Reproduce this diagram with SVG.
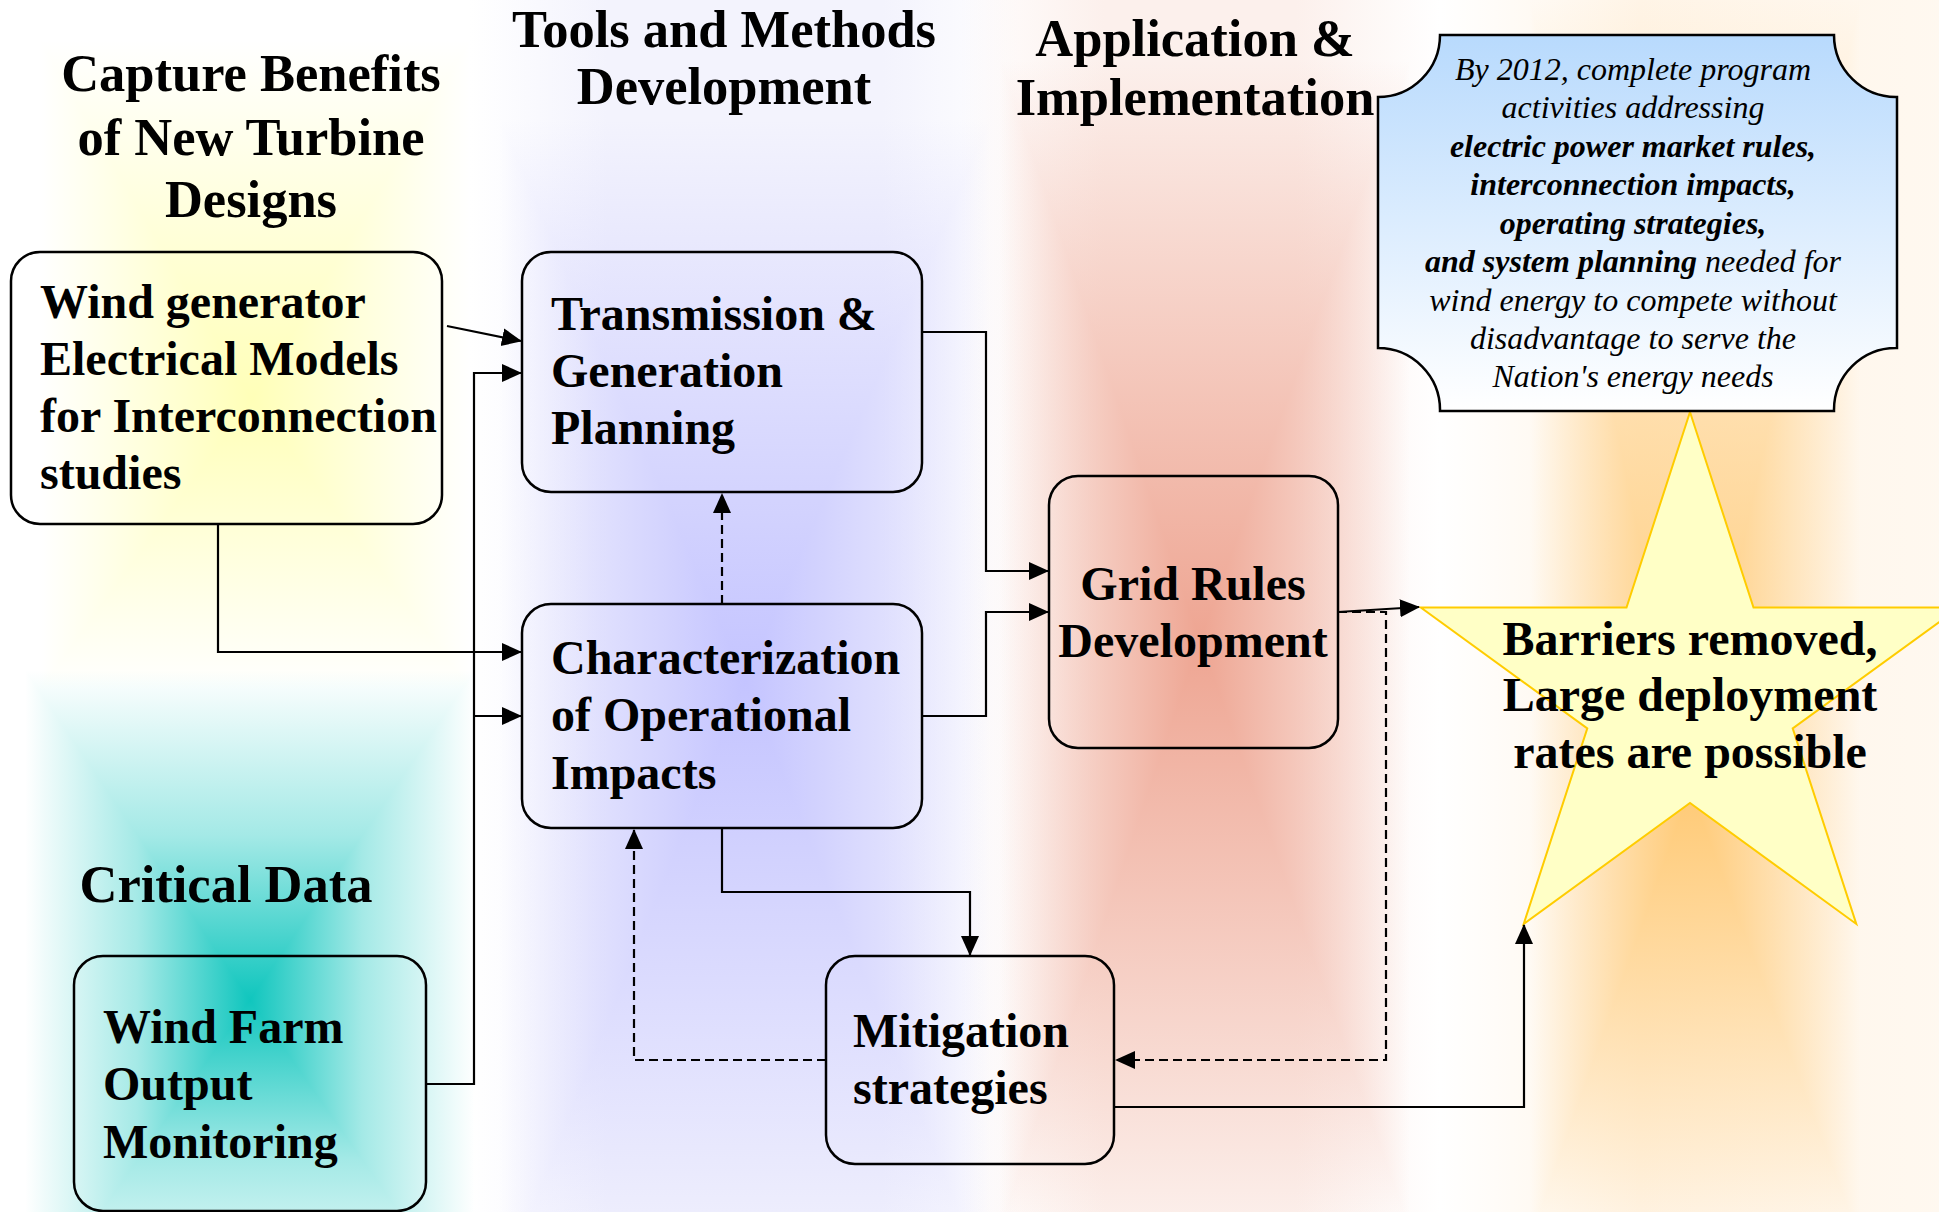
<svg xmlns="http://www.w3.org/2000/svg" width="1939" height="1212" viewBox="0 0 1939 1212">
<style>
.g{shape-rendering:crispEdges}
.box{fill:none;stroke:#000;stroke-width:2.5}
.c{fill:none;stroke:#000;stroke-width:2.2}
.d{stroke-dasharray:9 5}
.t{font-family:"Liberation Serif","Times New Roman",serif;font-weight:bold;font-size:48px;fill:#000}
.h{font-size:52.5px;text-anchor:middle}
.m{text-anchor:middle}
.i{font-family:"Liberation Serif","Times New Roman",serif;font-style:italic;font-size:32px;text-anchor:middle;fill:#000}
.b{font-weight:bold}
</style>
<defs>
<marker id="ah" markerUnits="userSpaceOnUse" markerWidth="20" markerHeight="20" viewBox="0 0 20 20" refX="19" refY="10" orient="auto">
<path d="M0,1 L20,10 L0,19 Z" fill="#000"/>
</marker>
<linearGradient id="callG" x1="0" y1="0" x2="0" y2="1">
<stop offset="0" stop-color="#b8dafd"/>
<stop offset="1" stop-color="#ffffff"/>
</linearGradient>
<linearGradient id="baseL" x1="0" y1="0" x2="1" y2="0">
<stop offset="0" stop-color="#f3f3fd" stop-opacity="0"/>
<stop offset="0.25" stop-color="#f3f3fd" stop-opacity="1"/>
<stop offset="0.75" stop-color="#f3f3fd" stop-opacity="1"/>
<stop offset="1" stop-color="#f3f3fd" stop-opacity="0"/>
</linearGradient>
<linearGradient id="baseS" x1="0" y1="0" x2="1" y2="0">
<stop offset="0" stop-color="#fcf0ec" stop-opacity="0"/>
<stop offset="0.3" stop-color="#fcf0ec" stop-opacity="1"/>
<stop offset="0.7" stop-color="#fcf0ec" stop-opacity="1"/>
<stop offset="1" stop-color="#fcf0ec" stop-opacity="0"/>
</linearGradient>
<linearGradient id="baseO" x1="0" y1="0" x2="1" y2="0">
<stop offset="0" stop-color="#fff4e6" stop-opacity="0"/>
<stop offset="0.4" stop-color="#fff4e6" stop-opacity="1"/>
<stop offset="1" stop-color="#fff4e6" stop-opacity="0.6"/>
</linearGradient>
<!-- yellow -->
<linearGradient id="y0"><stop offset="0" stop-color="#ffffb8" stop-opacity="0"/><stop offset="1" stop-color="#ffffb8" stop-opacity="1"/></linearGradient>
<linearGradient id="yT" href="#y0" gradientUnits="userSpaceOnUse" x1="252" y1="40" x2="252" y2="400"/>
<linearGradient id="yB" href="#y0" gradientUnits="userSpaceOnUse" x1="252" y1="690" x2="252" y2="400"/>
<linearGradient id="yL" href="#y0" gradientUnits="userSpaceOnUse" x1="40" y1="400" x2="252" y2="400"/>
<linearGradient id="yR" href="#y0" gradientUnits="userSpaceOnUse" x1="470" y1="400" x2="252" y2="400"/>
<!-- lavender -->
<linearGradient id="l0"><stop offset="0" stop-color="#c4c4ff" stop-opacity="0"/><stop offset="1" stop-color="#c4c4ff" stop-opacity="1"/></linearGradient>
<linearGradient id="lT" href="#l0" gradientUnits="userSpaceOnUse" x1="745" y1="120" x2="745" y2="680"/>
<linearGradient id="lB" href="#l0" gradientUnits="userSpaceOnUse" x1="745" y1="1290" x2="745" y2="680"/>
<linearGradient id="lL" href="#l0" gradientUnits="userSpaceOnUse" x1="500" y1="680" x2="745" y2="680"/>
<linearGradient id="lR" href="#l0" gradientUnits="userSpaceOnUse" x1="990" y1="680" x2="745" y2="680"/>
<!-- salmon -->
<linearGradient id="s0"><stop offset="0" stop-color="#eea592" stop-opacity="0"/><stop offset="1" stop-color="#eea592" stop-opacity="1"/></linearGradient>
<linearGradient id="sT" href="#s0" gradientUnits="userSpaceOnUse" x1="1200" y1="60" x2="1200" y2="640"/>
<linearGradient id="sB" href="#s0" gradientUnits="userSpaceOnUse" x1="1200" y1="1230" x2="1200" y2="640"/>
<linearGradient id="sL" href="#s0" gradientUnits="userSpaceOnUse" x1="1000" y1="640" x2="1200" y2="640"/>
<linearGradient id="sR" href="#s0" gradientUnits="userSpaceOnUse" x1="1410" y1="640" x2="1200" y2="640"/>
<!-- orange -->
<linearGradient id="o0"><stop offset="0" stop-color="#ffca76" stop-opacity="0"/><stop offset="1" stop-color="#ffca76" stop-opacity="1"/></linearGradient>
<linearGradient id="oT" href="#o0" gradientUnits="userSpaceOnUse" x1="1690" y1="0" x2="1690" y2="790"/>
<linearGradient id="oB" href="#o0" gradientUnits="userSpaceOnUse" x1="1690" y1="1240" x2="1690" y2="790"/>
<linearGradient id="oL" href="#o0" gradientUnits="userSpaceOnUse" x1="1530" y1="790" x2="1690" y2="790"/>
<linearGradient id="oR" href="#o0" gradientUnits="userSpaceOnUse" x1="1860" y1="790" x2="1690" y2="790"/>
<!-- teal -->
<linearGradient id="c0"><stop offset="0" stop-color="#10c6be" stop-opacity="0"/><stop offset="0.5" stop-color="#10c6be" stop-opacity="0.38"/><stop offset="1" stop-color="#10c6be" stop-opacity="1"/></linearGradient>
<linearGradient id="cT" href="#c0" gradientUnits="userSpaceOnUse" x1="250" y1="670" x2="250" y2="1000"/>
<linearGradient id="cB" href="#c0" gradientUnits="userSpaceOnUse" x1="250" y1="1320" x2="250" y2="1000"/>
<linearGradient id="cL" href="#c0" gradientUnits="userSpaceOnUse" x1="25" y1="1000" x2="250" y2="1000"/>
<linearGradient id="cR" href="#c0" gradientUnits="userSpaceOnUse" x1="475" y1="1000" x2="250" y2="1000"/>
</defs>

<rect x="0" y="0" width="1939" height="1212" fill="#ffffff"/>

<g id="background">
<rect x="470" y="0" width="550" height="1212" fill="url(#baseL)"/>
<rect x="960" y="0" width="480" height="1212" fill="url(#baseS)"/>
<rect x="1440" y="0" width="499" height="1212" fill="url(#baseO)"/>
<g class="g">
<polygon points="40,40 470,40 252,400" fill="url(#yT)"/>
<polygon points="40,690 470,690 252,400" fill="url(#yB)"/>
<polygon points="40,40 40,690 252,400" fill="url(#yL)"/>
<polygon points="470,40 470,690 252,400" fill="url(#yR)"/>

<polygon points="500,120 990,120 745,680" fill="url(#lT)"/>
<polygon points="500,1290 990,1290 745,680" fill="url(#lB)"/>
<polygon points="500,120 500,1290 745,680" fill="url(#lL)"/>
<polygon points="990,120 990,1290 745,680" fill="url(#lR)"/>

<polygon points="1000,60 1410,60 1200,640" fill="url(#sT)"/>
<polygon points="1000,1230 1410,1230 1200,640" fill="url(#sB)"/>
<polygon points="1000,60 1000,1230 1200,640" fill="url(#sL)"/>
<polygon points="1410,60 1410,1230 1200,640" fill="url(#sR)"/>

<polygon points="1530,0 1860,0 1690,790" fill="url(#oT)"/>
<polygon points="1530,1240 1860,1240 1690,790" fill="url(#oB)"/>
<polygon points="1530,0 1530,1240 1690,790" fill="url(#oL)"/>
<polygon points="1860,0 1860,1240 1690,790" fill="url(#oR)"/>

<polygon points="25,670 475,670 250,1000" fill="url(#cT)"/>
<polygon points="25,1320 475,1320 250,1000" fill="url(#cB)"/>
<polygon points="25,670 25,1320 250,1000" fill="url(#cL)"/>
<polygon points="475,670 475,1320 250,1000" fill="url(#cR)"/>
</g>
</g>

<g id="titles">
<text class="t h" x="251" y="91">Capture Benefits</text>
<text class="t h" x="251" y="155">of New Turbine</text>
<text class="t h" x="251" y="217">Designs</text>
<text class="t h" x="724" y="47">Tools and Methods</text>
<text class="t h" x="724" y="104">Development</text>
<text class="t h" x="1195" y="56">Application &amp;</text>
<text class="t h" x="1195" y="115">Implementation</text>
<text class="t h" x="226" y="902">Critical Data</text>
</g>

<g id="star-goal">
<polygon points="1690,412 1753.5,607.6 1959.2,607.6 1792.7,728.4 1856.3,924 1690,803 1523.7,924 1587.3,728.4 1420.8,607.6 1626.5,607.6" fill="#ffffc6" stroke="#ffcc00" stroke-width="2"/>
<text class="t m" x="1690" y="655">Barriers removed,</text>
<text class="t m" x="1690" y="711">Large deployment</text>
<text class="t m" x="1690" y="768">rates are possible</text>
</g>

<g id="callout-goal">
<path d="M1440,35 H1834 A62,62 0 0 0 1897,97 V348 A62,62 0 0 0 1834,411 H1440 A62,62 0 0 0 1378,348 V97 A62,62 0 0 0 1440,35 Z" fill="url(#callG)" stroke="#000" stroke-width="2.5"/>
<text class="i" x="1633" y="80">By 2012, complete program</text>
<text class="i" x="1633" y="118">activities addressing</text>
<text class="i b" x="1633" y="157">electric power market rules,</text>
<text class="i b" x="1633" y="195">interconnection impacts,</text>
<text class="i b" x="1633" y="234">operating strategies,</text>
<text class="i" x="1633" y="272"><tspan font-weight="bold">and system planning</tspan> needed for</text>
<text class="i" x="1633" y="311">wind energy to compete without</text>
<text class="i" x="1633" y="349">disadvantage to serve the</text>
<text class="i" x="1633" y="387">Nation's energy needs</text>
</g>

<g id="node-wind-generator">
<rect class="box" x="11" y="252" width="431" height="272" rx="29"/>
<text class="t" x="40" y="318">Wind generator</text>
<text class="t" x="40" y="375">Electrical Models</text>
<text class="t" x="40" y="432">for Interconnection</text>
<text class="t" x="40" y="489">studies</text>
</g>

<g id="node-transmission">
<rect class="box" x="522" y="252" width="400" height="240" rx="29"/>
<text class="t" x="551" y="330">Transmission &amp;</text>
<text class="t" x="551" y="387">Generation</text>
<text class="t" x="551" y="444">Planning</text>
</g>

<g id="node-characterization">
<rect class="box" x="522" y="604" width="400" height="224" rx="29"/>
<text class="t" x="551" y="674">Characterization</text>
<text class="t" x="551" y="731">of Operational</text>
<text class="t" x="551" y="789">Impacts</text>
</g>

<g id="node-wind-farm">
<rect class="box" x="74" y="956" width="352" height="255" rx="29"/>
<text class="t" x="103" y="1043">Wind Farm</text>
<text class="t" x="103" y="1100">Output</text>
<text class="t" x="103" y="1158">Monitoring</text>
</g>

<g id="node-mitigation">
<rect class="box" x="826" y="956" width="288" height="208" rx="29"/>
<text class="t" x="853" y="1047">Mitigation</text>
<text class="t" x="853" y="1104">strategies</text>
</g>

<g id="node-grid-rules">
<rect class="box" x="1049" y="476" width="289" height="272" rx="29"/>
<text class="t m" x="1193" y="600">Grid Rules</text>
<text class="t m" x="1193" y="657">Development</text>
</g>

<g id="connectors">
<path class="c" d="M447,326 L521,341" marker-end="url(#ah)"/>
<path class="c" d="M426,1084 H474 V373 H521" marker-end="url(#ah)"/>
<path class="c" d="M474,716 H521" marker-end="url(#ah)"/>
<path class="c" d="M218,524 V652 H521" marker-end="url(#ah)"/>
<path class="c" d="M922,332 H986 V571 H1048" marker-end="url(#ah)"/>
<path class="c" d="M922,716 H986 V612 H1048" marker-end="url(#ah)"/>
<path class="c d" d="M722,604 V494" marker-end="url(#ah)"/>
<path class="c" d="M722,828 V892 H970 V955" marker-end="url(#ah)"/>
<path class="c d" d="M826,1060 H634 V830" marker-end="url(#ah)"/>
<path class="c" d="M1338,612 L1419,607" marker-end="url(#ah)"/>
<path class="c d" d="M1338,612 H1386 V1060 H1116" marker-end="url(#ah)"/>
<path class="c" d="M1114,1107 H1524 V925" marker-end="url(#ah)"/>
</g>
</svg>
